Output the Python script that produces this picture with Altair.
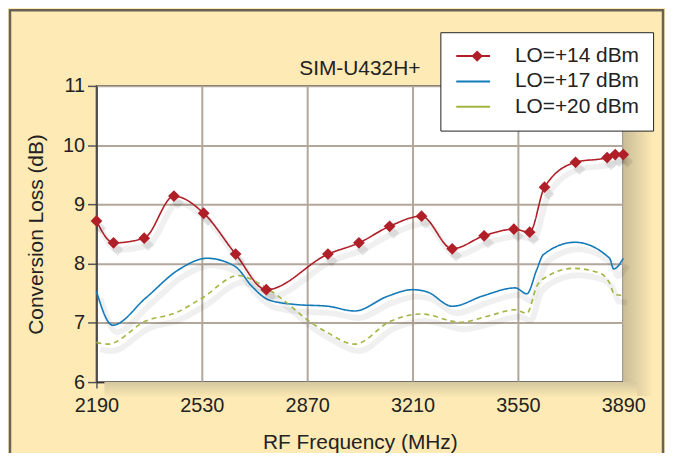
import altair as alt
import pandas as pd

chart_title = "SIM-U432H+"
series_names = ["LO=+14 dBm", "LO=+17 dBm", "LO=+20 dBm"]

lo14_freq = [2190, 2245, 2344, 2440, 2536, 2639, 2738, 2937, 3037, 3136, 3239, 3338, 3441, 3537, 3588, 3636, 3736, 3838, 3864, 3890]
lo14_loss = [8.72, 8.35, 8.43, 9.14, 8.85, 8.16, 7.56, 8.16, 8.35, 8.63, 8.80, 8.25, 8.47, 8.58, 8.53, 9.29, 9.71, 9.79, 9.84, 9.84]

lo17_freq = [2190, 2242, 2349, 2456, 2547, 2638, 2691, 2745, 2831, 2937, 3023, 3130, 3210, 3258, 3338, 3440, 3541, 3579, 3611, 3632, 3734, 3846, 3859, 3890]
lo17_loss = [7.53, 6.96, 7.42, 7.90, 8.09, 7.95, 7.62, 7.39, 7.31, 7.28, 7.20, 7.45, 7.56, 7.52, 7.28, 7.46, 7.59, 7.49, 7.90, 8.15, 8.36, 8.09, 7.91, 8.09]

lo20_freq = [2190, 2226, 2349, 2446, 2531, 2649, 2691, 2777, 2884, 2937, 3023, 3140, 3237, 3365, 3451, 3541, 3579, 3611, 3643, 3729, 3814, 3846, 3862, 3890]
lo20_loss = [6.67, 6.64, 7.03, 7.17, 7.42, 7.80, 7.73, 7.45, 7.00, 6.83, 6.64, 7.03, 7.15, 7.01, 7.11, 7.22, 7.16, 7.62, 7.78, 7.92, 7.84, 7.67, 7.48, 7.46]

x_ticks = [2190, 2530, 2870, 3210, 3550, 3890]
y_ticks = [6, 7, 8, 9, 10, 11]

colors = ["#b01e27", "#137ab9", "#a3b443"]

rows = []
for name, fs, ls in zip(series_names, [lo14_freq, lo17_freq, lo20_freq], [lo14_loss, lo17_loss, lo20_loss]):
    for f, l in zip(fs, ls):
        rows.append({"series": name, "freq": f, "loss": l})
df = pd.DataFrame(rows)
df14 = df[df.series == series_names[0]]
title_df = pd.DataFrame({"t": [chart_title]})

FONT = "Liberation Sans"
CREAM = "#fdeab4"
W, H = 530, 298

x_enc = alt.X("freq:Q", scale=alt.Scale(domain=[2190, 3890], nice=False, zero=False),
              axis=alt.Axis(values=x_ticks, title="RF Frequency (MHz)", format="d",
                            grid=True, gridColor="#b3a79b", gridWidth=2,
                            domainColor="#333333", domainWidth=1.5,
                            tickColor="#555555", tickSize=6, tickWidth=1.5,
                            labelFont=FONT, labelFontSize=20, labelColor="#222222", labelPadding=8,
                            labelFlush=False,
                            titleFont=FONT, titleFontSize=21, titleFontWeight="normal",
                            titleColor="#222222", titlePadding=16))
y_enc = alt.Y("loss:Q", scale=alt.Scale(domain=[6, 11], nice=False, zero=False),
              axis=alt.Axis(values=y_ticks, title="Conversion Loss (dB)",
                            grid=True, gridColor="#b3a79b", gridWidth=2,
                            domainColor="#333333", domainWidth=1.5,
                            tickColor="#555555", tickSize=9, tickWidth=1.5,
                            labelFont=FONT, labelFontSize=20, labelColor="#222222", labelPadding=3,
                            titleFont=FONT, titleFontSize=21, titleFontWeight="normal",
                            titleColor="#222222", titlePadding=16))

color_scale = alt.Scale(domain=series_names, range=colors)
dash_scale = alt.Scale(domain=series_names, range=[[1, 0], [1, 0], [5, 4]])

LX, LY = 346, -54
legend = alt.Legend(
    title=None, orient="none", legendX=LX, legendY=LY,
    fillColor="white", strokeColor="#222222", padding=13.5,
    symbolType="M-1.79,0L1.79,0", symbolSize=361, symbolStrokeWidth=2, symbolOffset=9,
    labelFont=FONT, labelFontSize=21, labelColor="#222222", labelOffset=31.5,
    rowPadding=3.5, labelLimit=300, zindex=1,
)
diamond_legend = alt.Legend(
    title=None, orient="none", legendX=LX, legendY=LY, padding=13.5,
    symbolType="diamond", symbolSize=130, symbolFillColor="#b01e27",
    symbolStrokeColor="#b01e27", symbolStrokeWidth=0, symbolOpacity=1, symbolOffset=13,
    labelExpr="''", labelFont=FONT, labelFontSize=21, labelOffset=0,
    rowPadding=3.5, zindex=2,
)

base = alt.Chart(df)

shadow = base.mark_line(interpolate="monotone", xOffset=4, yOffset=7, strokeWidth=6,
                        color="#000000", opacity=0.06).encode(x=x_enc, y=y_enc, detail="series:N")

lines = base.mark_line(interpolate="monotone", strokeWidth=1.6).encode(
    x=x_enc, y=y_enc,
    color=alt.Color("series:N", scale=color_scale, legend=legend),
    strokeDash=alt.StrokeDash("series:N", scale=dash_scale, legend=None),
)

pts_shadow = alt.Chart(df14).mark_point(shape="diamond", filled=True, size=140, xOffset=4, yOffset=7,
                                        color="#000000", opacity=0.09).encode(x=x_enc, y=y_enc)
pts = alt.Chart(df14).mark_point(filled=True, size=140, opacity=1, color="#b01e27").encode(
    x=x_enc, y=y_enc,
    shape=alt.Shape("series:N", scale=alt.Scale(domain=[series_names[0]], range=["diamond"]),
                    legend=diamond_legend),
)

frame = alt.Chart(title_df).mark_rect(fill=None, stroke="#6b6256", strokeWidth=2.5, clip=False).encode(
    x=alt.value(-87), x2=alt.value(570), y=alt.value(-76), y2=alt.value(420))

grad_right = alt.LinearGradient(gradient="linear", x1=0, y1=0, x2=1, y2=0,
                                stops=[alt.GradientStop(offset=0, color="#c9bc97"),
                                       alt.GradientStop(offset=1, color=CREAM)])
grad_bottom = alt.LinearGradient(gradient="linear", x1=0, y1=0, x2=0, y2=1,
                                 stops=[alt.GradientStop(offset=0, color="#d6c89f"),
                                        alt.GradientStop(offset=1, color=CREAM)])
shade_right = alt.Chart(title_df).mark_rect(color=grad_right, clip=False).encode(
    x=alt.value(W), x2=alt.value(W + 30), y=alt.value(8), y2=alt.value(H + 14))
shade_bottom = alt.Chart(title_df).mark_rect(color=grad_bottom, clip=False).encode(
    x=alt.value(8), x2=alt.value(W + 14), y=alt.value(H), y2=alt.value(H + 16))

title_mark = alt.Chart(title_df).mark_text(font=FONT, fontSize=21, color="#222222",
                                           align="center", baseline="alphabetic").encode(
    text="t:N", x=alt.value(W / 2), y=alt.value(-11))

chart = alt.layer(shade_right, shade_bottom, frame, title_mark, shadow, lines, pts_shadow, pts).properties(
    width=W, height=H,
    autosize=alt.AutoSizeParams(type="none"),
    padding={"left": 89, "top": 77, "right": 42, "bottom": 70},
    background=CREAM,
).resolve_legend(color="independent", shape="independent").configure_view(
    fill="white", stroke="#333333", strokeWidth=1.5)

chart.save("out.html", embed_options={"renderer": "svg", "actions": False})
